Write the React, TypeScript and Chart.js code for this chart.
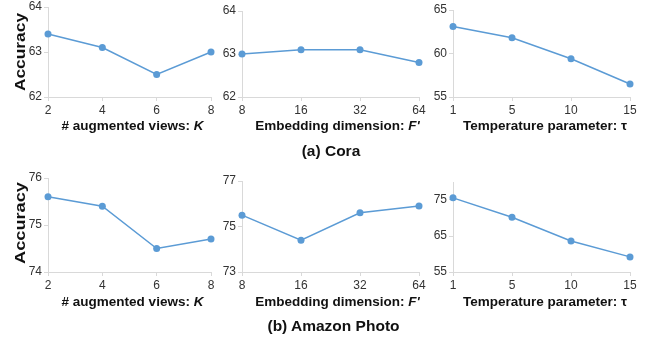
import React, { useEffect, useRef } from 'react';
import { Chart, registerables } from 'chart.js';
Chart.register(...registerables);

// ---- data ----
const kLabels = ['2', '4', '6', '8'];
const fLabels = ['8', '16', '32', '64'];
const tauLabels = ['1', '5', '10', '15'];

const coraK = [63.4, 63.1, 62.5, 63.0];
const coraF = [63.0, 63.1, 63.1, 62.8];
const coraTau = [63.1, 61.8, 59.4, 56.5];
const photoK = [75.6, 75.4, 74.5, 74.7];
const photoF = [75.5, 74.4, 75.6, 75.9];
const photoTau = [75.6, 70.2, 63.6, 59.2];

const coraKTicks = [62, 63, 64];
const coraFTicks = [62, 63, 64];
const coraTauTicks = [55, 60, 65];
const photoKTicks = [74, 75, 76];
const photoFTicks = [73, 75, 77];
const photoTauTicks = [55, 65, 75];

const FONT = "'Liberation Sans', Arial, sans-serif";
const PADL = 40;
const PADT = 8;
const PADR = 14;
const XH = 24;

type Area = { l: number; t: number; r: number; b: number };

function Panel(props: {
  area: Area;
  labels: string[];
  data: number[];
  yTicks: number[];
  yMin: number;
  yMax: number;
}) {
  const ref = useRef<HTMLCanvasElement | null>(null);
  const { area, labels, data, yTicks, yMin, yMax } = props;
  const w = area.r - area.l + PADL + PADR;
  const h = area.b - area.t + PADT + XH;
  useEffect(() => {
    if (!ref.current) return;
    const axisGrid = {
      drawOnChartArea: false,
      drawTicks: true,
      tickLength: 4,
      color: '#d9d9d9',
      lineWidth: 1,
    };
    const tickFont = { family: FONT, size: 12 };
    const chart = new Chart(ref.current, {
      type: 'line',
      data: {
        labels,
        datasets: [
          {
            data,
            borderColor: '#5b9bd5',
            backgroundColor: '#5b9bd5',
            borderWidth: 1.5,
            pointRadius: 3.5,
            pointHoverRadius: 3.5,
            pointBorderWidth: 0,
            tension: 0,
            clip: false as any,
          },
        ],
      },
      options: {
        responsive: false,
        animation: false,
        events: [],
        layout: { padding: { top: PADT, right: PADR, left: 0, bottom: 0 } },
        plugins: { legend: { display: false }, tooltip: { enabled: false } },
        scales: {
          x: {
            type: 'category',
            offset: false,
            grid: axisGrid,
            border: { color: '#d9d9d9', width: 1 },
            ticks: {
              color: '#333333',
              font: tickFont,
              padding: 2,
              maxRotation: 0,
              autoSkip: false,
            },
            afterFit: (s: any) => {
              s.height = XH;
              s.paddingLeft = 0;
              s.paddingRight = 0;
            },
          },
          y: {
            min: yMin,
            max: yMax,
            grid: axisGrid,
            border: { color: '#d9d9d9', width: 1 },
            ticks: { color: '#333333', font: tickFont, padding: 2 },
            afterBuildTicks: (s: any) => {
              s.ticks = yTicks.map((v) => ({ value: v }));
            },
            afterFit: (s: any) => {
              s.width = PADL;
              s.paddingTop = 0;
              s.paddingBottom = 0;
            },
          },
        },
      } as any,
    });
    return () => chart.destroy();
  }, []);
  return (
    <canvas
      ref={ref}
      width={w}
      height={h}
      style={{
        position: 'absolute',
        left: area.l - PADL,
        top: area.t - PADT,
        width: w,
        height: h,
      }}
    />
  );
}

function Label(props: {
  x: number;
  y: number;
  size: number;
  children: React.ReactNode;
  rotate?: boolean;
  stretch?: number;
}) {
  const { x, y, size, children, rotate, stretch } = props;
  const tf = rotate
    ? `translate(-50%, -50%) rotate(-90deg) scaleX(${stretch || 1})`
    : 'translate(-50%, -50%)';
  return (
    <div
      style={{
        position: 'absolute',
        left: x,
        top: y,
        transform: tf,
        fontFamily: FONT,
        fontWeight: 'bold',
        fontSize: size,
        color: '#111',
        whiteSpace: 'nowrap',
        lineHeight: 1,
      }}
    >
      {children}
    </div>
  );
}

export default function App() {
  useEffect(() => {
    document.body.style.margin = '0';
  }, []);
  const p1: Area = { l: 48, t: 7, r: 211, b: 97 };
  const p2: Area = { l: 242, t: 11, r: 419, b: 97 };
  const p3: Area = { l: 453, t: 10, r: 630, b: 97 };
  const p4: Area = { l: 48, t: 178, r: 211, b: 272 };
  const p5: Area = { l: 242, t: 181, r: 419, b: 272 };
  const p6: Area = { l: 453, t: 182, r: 630, b: 272 };
  return (
    <div style={{ position: 'relative', width: 652, height: 339, background: '#fff', overflow: 'hidden' }}>
      <Panel area={p1} labels={kLabels} data={coraK} yTicks={coraKTicks} yMin={62} yMax={64} />
      <Panel area={p2} labels={fLabels} data={coraF} yTicks={coraFTicks} yMin={62} yMax={64} />
      <Panel area={p3} labels={tauLabels} data={coraTau} yTicks={coraTauTicks} yMin={55} yMax={65} />
      <Panel area={p4} labels={kLabels} data={photoK} yTicks={photoKTicks} yMin={74} yMax={76} />
      <Panel area={p5} labels={fLabels} data={photoF} yTicks={photoFTicks} yMin={73} yMax={77} />
      <Panel area={p6} labels={tauLabels} data={photoTau} yTicks={photoTauTicks} yMin={55} yMax={80} />

      <Label x={19.5} y={52} size={14} rotate stretch={1.24}>Accuracy</Label>
      <Label x={19.5} y={223} size={14} rotate stretch={1.3}>Accuracy</Label>

      <Label x={132.5} y={126} size={13.5}># augmented views: <i>K</i></Label>
      <Label x={337.5} y={126} size={13.5}>Embedding dimension: <i>F'</i></Label>
      <Label x={545} y={126} size={13.5}>Temperature parameter: τ</Label>
      <Label x={132.5} y={301.5} size={13.5}># augmented views: <i>K</i></Label>
      <Label x={337.5} y={301.5} size={13.5}>Embedding dimension: <i>F'</i></Label>
      <Label x={545} y={301.5} size={13.5}>Temperature parameter: τ</Label>

      <Label x={331} y={151} size={15.5}>(a) Cora</Label>
      <Label x={333.5} y={326} size={15.5}>(b) Amazon Photo</Label>
    </div>
  );
}
